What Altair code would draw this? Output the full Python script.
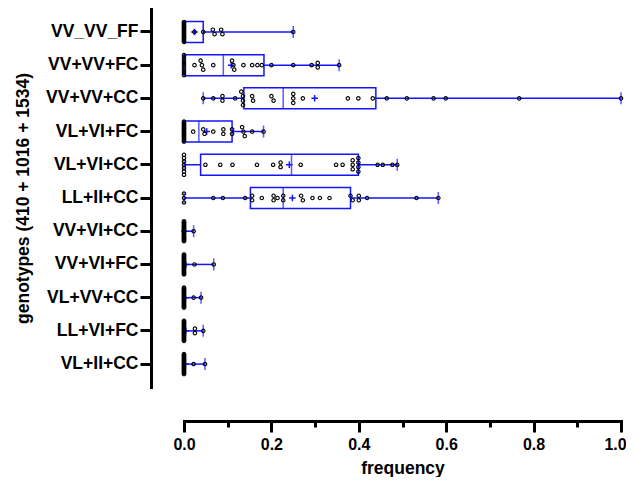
import altair as alt
import pandas as pd

# ---------------- data ----------------
genotypes = ["VV_VV_FF", "VV+VV+FC", "VV+VV+CC", "VL+VI+FC", "VL+VI+CC",
             "LL+II+CC", "VV+VI+CC", "VV+VI+FC", "VL+VV+CC", "LL+VI+FC", "VL+II+CC"]

min_v = [0, 0, 0.044, 0, 0, 0, 0, 0, 0, 0, 0]
q1_v = [0, 0, 0.137, 0, 0.038, 0.152, 0, 0, 0, 0, 0]
med_v = [0, 0.09, 0.227, 0.034, 0.246, 0.227, 0, 0, 0, 0, 0]
q3_v = [0.044, 0.183, 0.439, 0.11, 0.399, 0.381, 0, 0, 0, 0, 0]
max_v = [0.25, 0.355, 1.0, 0.182, 0.488, 0.582, 0.022, 0.068, 0.039, 0.044, 0.048]
mean_v = [0.024, 0.108, 0.299, 0.052, 0.241, 0.248, 0.001, 0.004, 0.003, 0.004, 0.003]

zero_counts = [20, 10, 0, 20, 7, 3, 25, 25, 25, 25, 25]
nonzero_points = [
    [0.024, 0.044, 0.066, 0.07, 0.085, 0.088, 0.25],
    [0.024, 0.038, 0.041, 0.044, 0.067, 0.11, 0.113, 0.115, 0.136, 0.156, 0.168,
     0.178, 0.2, 0.25, 0.292, 0.306, 0.306, 0.355],
    [0.044, 0.067, 0.088, 0.088, 0.117, 0.131, 0.135, 0.135, 0.135, 0.156, 0.158,
     0.2, 0.205, 0.25, 0.25, 0.25, 0.272, 0.375, 0.399, 0.432, 0.464, 0.51,
     0.571, 0.599, 0.767, 1.0],
    [0.021, 0.044, 0.047, 0.067, 0.09, 0.09, 0.11, 0.11, 0.133, 0.136, 0.139,
     0.156, 0.182],
    [0.049, 0.083, 0.111, 0.167, 0.204, 0.221, 0.221, 0.267, 0.348, 0.363,
     0.386, 0.386, 0.386, 0.399, 0.399, 0.399, 0.399, 0.443, 0.455, 0.477, 0.488],
    [0.067, 0.089, 0.14, 0.156, 0.156, 0.178, 0.205, 0.205, 0.214, 0.227, 0.227,
     0.268, 0.272, 0.294, 0.311, 0.333, 0.381, 0.386, 0.4, 0.4, 0.419, 0.532, 0.582],
    [0.022],
    [0.024, 0.068],
    [0.022, 0.039],
    [0.025, 0.025, 0.044],
    [0.022, 0.048],
]

x_ticks = [0.0, 0.1, 0.2, 0.3, 0.4, 0.5, 0.6, 0.7, 0.8, 0.9, 1.0]

# ---------------- layout ----------------
PLOT_W, PLOT_H = 437, 378
PAD_OUTER = 0.19
HALF_STEP = PLOT_H / (len(genotypes) + 2 * PAD_OUTER) / 2

# ---------------- tables ----------------
stats = pd.DataFrame({
    "g": genotypes, "min": min_v, "q1": q1_v, "med": med_v,
    "q3": q3_v, "max": max_v, "mean": mean_v,
})

rows = []
for g, nz, pts in zip(genotypes, zero_counts, nonzero_points):
    vals = sorted([0.0] * nz + pts)
    # group near-identical values and spread them vertically (dot-plot style)
    clusters = []
    for v in vals:
        if clusters and v - clusters[-1][-1] <= 0.006:
            clusters[-1].append(v)
        else:
            clusters.append([v])
    for c in clusters:
        n = len(c)
        sp = 0 if n == 1 else min(4.5, 20.0 / (n - 1))
        for i, v in enumerate(c):
            rows.append({"g": g, "v": v, "off": HALF_STEP + (i - (n - 1) / 2) * sp})
points = pd.DataFrame(rows)

BLUE = "#1414ff"
FONT = "Liberation Sans"

y_enc = alt.Y(
    "g:N", sort=genotypes,
    scale=alt.Scale(paddingInner=0, paddingOuter=PAD_OUTER),
    axis=alt.Axis(
        title="genotypes (410 + 1016 + 1534)", offset=33,
        labelFont=FONT, labelFontSize=17.5, labelFontWeight="bold", labelColor="black",
        titleFont=FONT, titleFontSize=17.5, titleFontWeight="bold", titleColor="black",
        titlePadding=13, labelPadding=2,
        tickSize=11, tickWidth=3, tickColor="black",
        domainWidth=3, domainColor="black", domainCap="square",
    ),
)

x_scale = alt.Scale(domain=[0, 1], nice=False)
x_axis = alt.Axis(
    title="frequency", values=x_ticks, offset=34,
    labelExpr="round(datum.value*10) % 2 == 0 ? format(datum.value, '.1f') : ''",
    labelFont=FONT, labelFontSize=16, labelFontWeight="bold", labelColor="black",
    labelFlush=False, labelPadding=4,
    labelOffset={"condition": {"test": "datum.value >= 0.99", "value": -6}, "value": 0},
    titleFont=FONT, titleFontSize=17.5, titleFontWeight="bold", titleColor="black",
    titlePadding=7,
    tickSize={"condition": {"test": "round(datum.value*10) % 2 == 1", "value": 6}, "value": 11},
    tickWidth=3, tickColor="black",
    domainWidth=3, domainColor="black", domainCap="square",
)

base = alt.Chart(stats)

whisker = base.mark_rule(color=BLUE, strokeWidth=1.5).encode(
    x=alt.X("min:Q", scale=x_scale, axis=x_axis), x2="max:Q", y=y_enc)

cap_min = base.mark_tick(color=BLUE, thickness=1.5, size=12).encode(
    x=alt.X("min:Q", scale=x_scale), y=alt.Y("g:N", sort=genotypes))
cap_max = base.mark_tick(color=BLUE, thickness=1.5, size=12).encode(
    x=alt.X("max:Q", scale=x_scale), y=alt.Y("g:N", sort=genotypes))

box = base.mark_bar(fill="white", stroke=BLUE, strokeWidth=1.5, size=21).encode(
    x=alt.X("q1:Q", scale=x_scale), x2="q3:Q", y=alt.Y("g:N", sort=genotypes))

median = base.mark_tick(color=BLUE, thickness=1.5, size=21).encode(
    x=alt.X("med:Q", scale=x_scale), y=alt.Y("g:N", sort=genotypes))

mean_mark = base.mark_point(
    shape="M-1,0L1,0M0,-1L0,1", color=BLUE, strokeWidth=1.5, size=42, opacity=1, filled=False
).encode(x=alt.X("mean:Q", scale=x_scale), y=alt.Y("g:N", sort=genotypes))

dots = alt.Chart(points).mark_point(
    shape="circle", filled=False, color="black", strokeWidth=1.1, size=12, opacity=1
).encode(
    x=alt.X("v:Q", scale=x_scale),
    y=alt.Y("g:N", sort=genotypes),
    yOffset=alt.YOffset("off:Q", scale=None),
)

chart = alt.layer(whisker, cap_min, cap_max, box, median, mean_mark, dots).properties(
    width=PLOT_W, height=PLOT_H,
    autosize=alt.AutoSizeParams(type="none"),
    padding={"left": 176, "top": 1, "right": 5, "bottom": 90},
).configure_view(stroke=None).configure_axis(grid=False)

chart.save("out.html", embed_options={"renderer": "svg", "actions": False})
